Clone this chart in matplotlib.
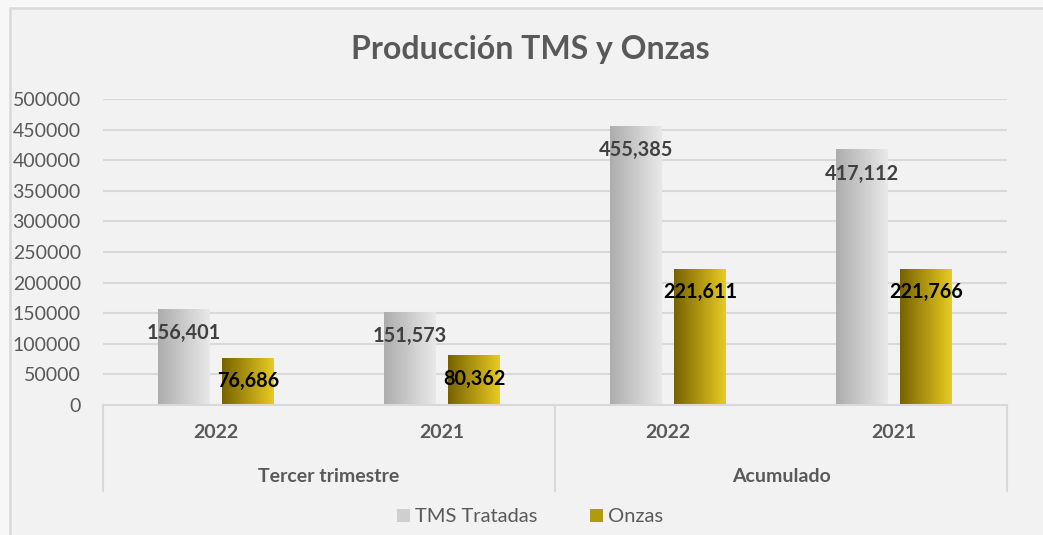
import numpy as np
import matplotlib
matplotlib.use('Agg')
from matplotlib import pyplot as plt
from matplotlib.patches import Rectangle
from matplotlib.colors import LinearSegmentedColormap

# données du graphique
anios = ['2022', '2021', '2022', '2021']
grupos = ['Tercer trimestre', 'Acumulado']
tms = [156401, 151573, 455385, 417112]
onzas = [76686, 80362, 221611, 221766]
series = ['TMS Tratadas', 'Onzas']

plt.rcParams['font.family'] = ['Lato', 'DejaVu Sans']

fig = plt.figure(figsize=(10.43, 5.35), dpi=100, facecolor='#f7f7f7')
# cadre du graphique
fig.patches.append(Rectangle((9.5 / 1043, -0.05), 1.1, 1 - 8 / 535 + 0.05,
                             transform=fig.transFigure, facecolor='#f2f2f2',
                             edgecolor='#d9d9d9', lw=1.8, zorder=-10))

ax = fig.add_axes([103 / 1043, 1 - 405 / 535, 904 / 1043, 306 / 535])
ax.set_facecolor('none')

x = np.arange(len(anios))
w = 0.23
off = 0.142
gris = LinearSegmentedColormap.from_list('gris', ['#adadad', '#e9e9e9'])
oro = LinearSegmentedColormap.from_list('oro', ['#776200', '#e8cb22'])
grad = np.linspace(0, 1, 256).reshape(1, -1)

b1 = ax.bar(x - off, tms, w, color='none', label=series[0])
b2 = ax.bar(x + off, onzas, w, color='none', label=series[1])

# remplissage en dégradé
for bars, cmap in [(b1, gris), (b2, oro)]:
    for r in bars:
        x0, y0 = r.get_x(), r.get_y()
        ax.imshow(grad, cmap=cmap, aspect='auto', zorder=2,
                  extent=[x0, x0 + r.get_width(), y0, y0 + r.get_height()])

# étiquettes des valeurs
for i in range(len(x)):
    ax.annotate("{:,}".format(tms[i]), (x[i] - off, tms[i]), xytext=(0, -24),
                textcoords='offset pixels', ha='center', va='center',
                fontsize=14.3, fontweight='bold', color='#404040', zorder=5)
    ax.annotate("{:,}".format(onzas[i]), (x[i] + off, onzas[i]), xytext=(0, -23),
                textcoords='offset pixels', ha='center', va='center',
                fontsize=14.3, fontweight='bold', color='black', zorder=5)

ax.set_xlim(-0.5, 3.5)
ax.set_ylim(0, 500000)
ax.set_yticks(np.arange(0, 500001, 50000))
ax.set_yticklabels([str(v) for v in range(0, 500001, 50000)])
ax.tick_params(axis='y', length=0, labelsize=14, labelcolor='#595959', pad=16)
ax.tick_params(axis='x', length=0)
ax.set_xticks(x)
ax.set_xticklabels([])
ax.grid(axis='y', color='#d9d9d9', lw=1.5, zorder=0)
ax.set_axisbelow(True)
for s in ['top', 'right', 'left']:
    ax.spines[s].set_visible(False)
ax.spines['bottom'].set_color('#d9d9d9')
ax.spines['bottom'].set_linewidth(1.5)

# axe des catégories à deux niveaux
tr = ax.get_xaxis_transform()
for i, a in enumerate(anios):
    ax.text(x[i], -27 / 306, a, transform=tr, ha='center', va='center',
            fontsize=14, fontweight='bold', color='#595959')
for j, g in enumerate(grupos):
    ax.text(2 * j + 0.5, -72 / 306, g, transform=tr, ha='center', va='center',
            fontsize=14, fontweight='bold', color='#595959')
for xs in [-0.5, 1.5, 3.5]:
    ax.plot([xs, xs], [0, -86 / 306], transform=tr, color='#d9d9d9', lw=1.5,
            clip_on=False)

fig.text(530 / 1043, 1 - 50 / 535, 'Producción TMS y Onzas', ha='center',
         va='center', fontsize=23, fontweight='bold', color='#595959')

# légende
h1 = Rectangle((0, 0), 1, 1, facecolor='#cfcfcf')
h2 = Rectangle((0, 0), 1, 1, facecolor='#b09a10')
fig.legend([h1, h2], series, loc='center', bbox_to_anchor=(530 / 1043, 1 - 517 / 535),
           ncol=2, frameon=False, fontsize=14.5, labelcolor='#595959',
           handlelength=0.65, handleheight=0.65, handletextpad=0.25, columnspacing=2.6)

plt.savefig('out.png', dpi=100, facecolor=fig.get_facecolor())
